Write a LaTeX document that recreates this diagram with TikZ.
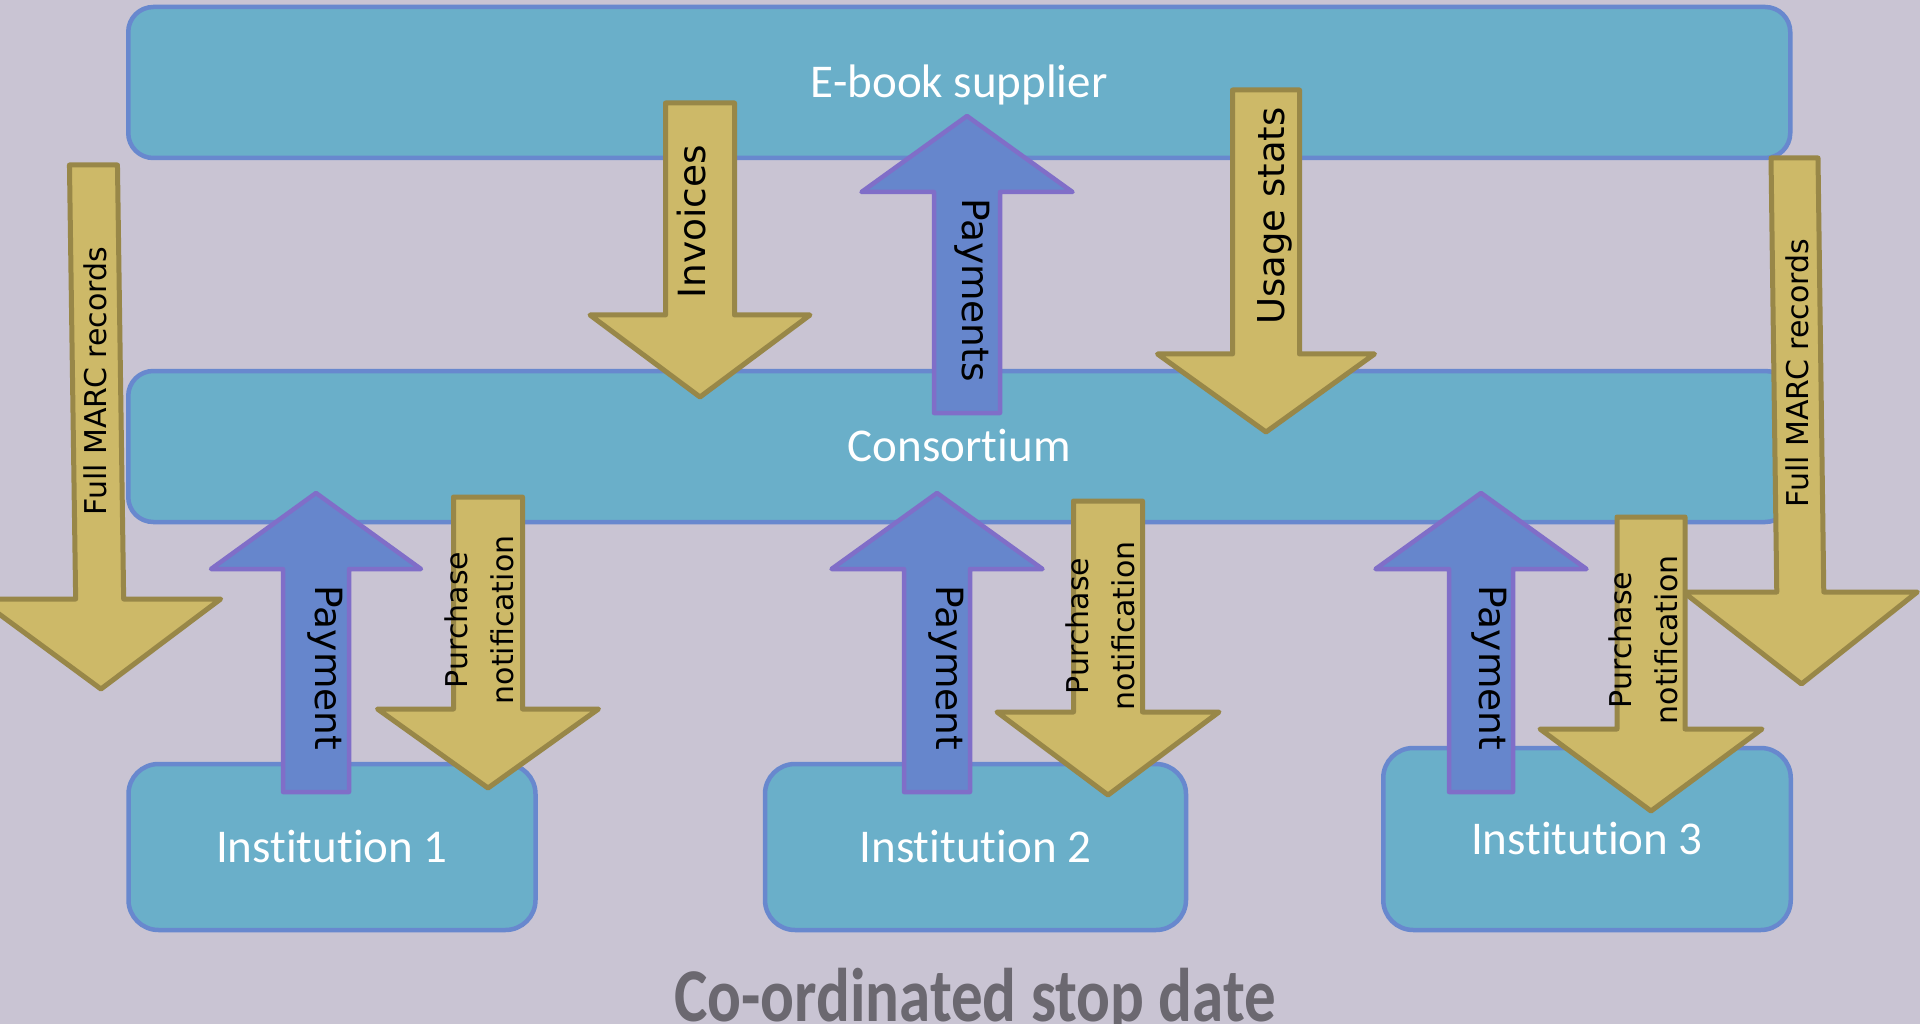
\documentclass[tikz,border=0pt]{standalone}
\usepackage{fontspec}
\usepackage{graphicx}
\setmainfont{Carlito}[Ligatures={NoCommon}]
\newfontfamily\verd{DejaVu Sans}
\definecolor{bgcol}{HTML}{C9C4D3}
\definecolor{boxfill}{HTML}{6AAFC9}
\definecolor{boxline}{HTML}{6888CE}
\definecolor{goldfill}{HTML}{CDB968}
\definecolor{goldline}{HTML}{988748}
\definecolor{bluefill}{HTML}{6686CC}
\definecolor{blueline}{HTML}{806EC8}
\definecolor{titlecol}{HTML}{6B6870}
% block arrow: style, name, x, tail y, head-base y, tip y, shaft half width, head half width
\newcommand\blockarrow[8]{%
  \path (#3,#4) coordinate (#2-tail) (#3,#6) coordinate (#2-tip);
  \draw[#1] (#3-#7,#4) -- (#3+#7,#4) -- (#3+#7,#5) -- (#3+#8,#5) -- (#2-tip)
    -- (#3-#8,#5) -- (#3-#7,#5) -- cycle;}
\begin{document}
\begin{tikzpicture}[x=1pt,y=-1pt,
  box/.style={draw=boxline, fill=boxfill, line width=4.5pt, text=white,
    font=\fontsize{47}{56}\selectfont, text height=30.3pt, text depth=0pt,
    inner sep=0pt},
  goldarrow/.style={draw=goldline, fill=goldfill, line width=5pt, line join=round},
  bluearrow/.style={draw=blueline, fill=bluefill, line width=4.5pt, line join=round},
  biglbl/.style={inner sep=0pt, text=black, font=\verd\fontsize{37.5}{45}\selectfont},
  smalllbl/.style={inner sep=0pt, text=black, font=\verd\fontsize{30}{46}\selectfont,
    align=center, rotate=90}
]
\useasboundingbox (0,0) rectangle (1920,1024);
\fill[bgcol] (0,0) rectangle (1920,1024);

% boxes
\node[box, rounded corners=25pt, minimum width=1662pt, minimum height=151pt]
  (sup) at (959.25,82.5) {E-book supplier};
\node[box, rounded corners=25pt, minimum width=1662pt, minimum height=151pt]
  (cons) at (959.25,446.5) {Consortium};
\node[box, rounded corners=30pt, minimum width=407pt, minimum height=166pt]
  (inst1) at (332,847) {Institution 1};
\node[box, rounded corners=30pt, minimum width=421pt, minimum height=166pt]
  (inst2) at (975.5,847) {Institution 2};
\node[box, rounded corners=30pt, minimum width=407.5pt, minimum height=182pt]
  (inst3) at (1587,839) {Institution 3};

% arrows between supplier and consortium
\blockarrow{goldarrow}{inv}{700}{103}{315}{397}{34.5}{110}
\blockarrow{bluearrow}{pays}{967}{413}{192}{116}{33}{105.5}
\blockarrow{goldarrow}{usage}{1266}{90}{354}{432}{33.5}{108.5}

% Full MARC records arrows (slightly slanted)
\begin{scope}[xslant=-0.0143]
\blockarrow{goldarrow}{marcL}{91.1}{165}{599}{689}{24}{121}
\end{scope}
\begin{scope}[xslant=-0.0133]
\blockarrow{goldarrow}{marcR}{1792.4}{158}{592}{684}{23.5}{117}
\end{scope}

% consortium <-> institutions
\blockarrow{bluearrow}{pay1}{316}{792}{569}{493}{33}{105}
\blockarrow{bluearrow}{pay2}{937}{792}{569}{493}{33}{105.5}
\blockarrow{bluearrow}{pay3}{1481}{792}{569}{493}{32}{105.5}
\blockarrow{goldarrow}{pur1}{488}{497}{709}{788}{34.5}{110.5}
\blockarrow{goldarrow}{pur2}{1108}{501}{712}{795}{34.5}{111}
\blockarrow{goldarrow}{pur3}{1651}{517}{729}{811}{34}{111}

% arrow labels
\node[biglbl, rotate=90] (tinv) at (692,222) {Invoices};
\node[biglbl, rotate=-90] (tpays) at (972,290) {Payments};
\node[biglbl, rotate=90, font=\verd\fontsize{37}{45}\selectfont] (tusage) at (1275,216) {Usage stats};
\node[biglbl, rotate=90, font=\verd\fontsize{30}{36}\selectfont] (tmarcL) at (95,381) {Full MARC records};
\node[biglbl, rotate=90, font=\verd\fontsize{30}{36}\selectfont] (tmarcR) at (1797,373) {Full MARC records};
\node[biglbl, rotate=-90] (tpay1) at (325,668) {Payment};
\node[biglbl, rotate=-90] (tpay2) at (946,668) {Payment};
\node[biglbl, rotate=-90] (tpay3) at (1489,668) {Payment};
\node[smalllbl] (tpur1) at (479,620) {Purchase\\notification};
\node[smalllbl] (tpur2) at (1100,626) {Purchase\\notification};
\node[smalllbl] (tpur3) at (1643.5,640) {Purchase\\notification};

% title
\node[anchor=base, inner sep=0pt, text=titlecol,
  font=\bfseries\fontsize{76}{90}\selectfont] (title) at (975,1021)
  {\scalebox{0.83}[1]{Co-ordinated stop date}};
\end{tikzpicture}
\end{document}
